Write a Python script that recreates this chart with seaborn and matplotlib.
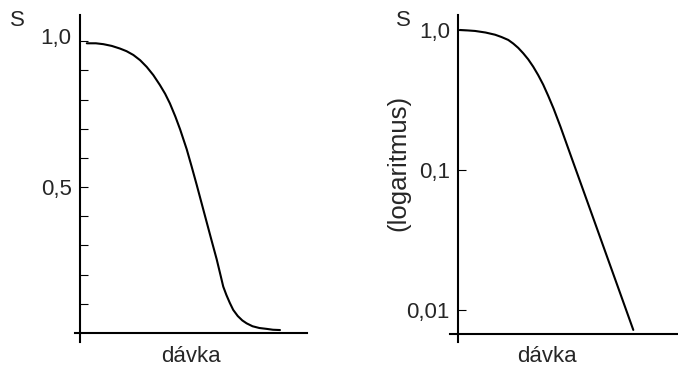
"""
Survival curves: linear vs logarithmic S axis against dose (dávka).
"""

import numpy as np
import pandas as pd
import matplotlib
matplotlib.use("Agg")
import matplotlib.pyplot as plt
import matplotlib.transforms as mtransforms
import seaborn as sns

sns.set_style("white")
plt.rcParams["font.family"] = ["Liberation Sans", "DejaVu Sans"]
plt.rcParams["ytick.direction"] = "in"
plt.rcParams["ytick.left"] = True

# dose (arbitrary units) and survival fraction S
dose_lin = [0.30, 0.70, 1.03, 1.40, 1.76, 2.05, 2.35, 2.65, 2.94, 3.23,
            3.52, 3.75, 3.96, 4.20, 4.41, 4.70, 4.92, 5.14, 5.36, 5.58,
            5.80, 6.02, 6.20, 6.31, 6.45, 6.60, 6.75, 6.95, 7.15, 7.34,
            7.60, 7.90, 8.22, 8.50, 8.81]
surv_lin = [0.993, 0.993, 0.990, 0.984, 0.975, 0.966, 0.953, 0.935, 0.912, 0.884,
            0.850, 0.820, 0.787, 0.742, 0.698, 0.630, 0.570, 0.508, 0.444, 0.380,
            0.316, 0.253, 0.195, 0.159, 0.130, 0.103, 0.079, 0.058, 0.043, 0.033,
            0.023, 0.017, 0.014, 0.011, 0.010]

dose_log = [0.07, 0.40, 0.74, 1.20, 1.62, 1.90, 2.20, 2.42, 2.64, 2.86,
            3.08, 3.30, 3.52, 3.74, 3.96, 4.20, 4.50, 5.00, 5.50, 6.00,
            6.50, 7.00, 7.71]
surv_log = [1.0, 0.993, 0.984, 0.959, 0.925, 0.891, 0.849, 0.800, 0.745, 0.682,
            0.617, 0.547, 0.476, 0.407, 0.339, 0.274, 0.204, 0.121, 0.072, 0.0428,
            0.0254, 0.0151, 0.0072]

lin_ticks = [0.1, 0.2, 0.3, 0.4, 0.5, 0.6, 0.7, 0.8, 0.9, 1.0]
lin_labels = ["", "", "", "", "0,5", "", "", "", "", "1,0"]
log_ticks = [0.01, 0.1, 1.0]
log_labels = ["0,01", "0,1", "1,0"]

W, H = 678, 372
FS = 16
LW = 1.5

df_lin = pd.DataFrame({"dose": dose_lin, "S": surv_lin})
df_log = pd.DataFrame({"dose": dose_log, "S": surv_log})

fig = plt.figure(figsize=(W / 100, H / 100), dpi=100)
ax1 = fig.add_axes([75 / W, 30 / H, 232 / W, 327 / H])
ax2 = fig.add_axes([450 / W, 30 / H, 228 / W, 327 / H])

sns.lineplot(data=df_lin, x="dose", y="S", ax=ax1, color="black", lw=LW)
sns.lineplot(data=df_log, x="dose", y="S", ax=ax2, color="black", lw=LW)

# left panel: linear axis
ax1.set_xlim(-0.22, 10.0)
ax1.set_ylim(-0.031, 1.09)
ax1.set_yticks(lin_ticks)
ax1.set_yticklabels(lin_labels)

# right panel: log axis
ax2.set_yscale("log")
ax2.set_xlim(-0.366, 9.68)
ax2.set_ylim(10 ** -2.229, 10 ** 0.107)
ax2.set_yticks(log_ticks)
ax2.set_yticklabels(log_labels)
ax2.minorticks_off()

for ax, y0 in [(ax1, 0.0), (ax2, 10 ** -2.174)]:
    ax.set_xticks([])
    ax.set_xlabel("")
    ax.set_ylabel("")
    ax.spines["top"].set_visible(False)
    ax.spines["right"].set_visible(False)
    ax.spines["left"].set_position(("data", 0))
    ax.spines["bottom"].set_position(("data", y0))
    for s in ("left", "bottom"):
        ax.spines[s].set_linewidth(LW)
        ax.spines[s].set_color("black")
    ax.tick_params(axis="y", which="major", left=True, direction="in",
                   length=5.5, width=0.8, color="black", labelsize=FS, pad=6)
    ax.patch.set_alpha(0)

# the "1,0" label on the linear panel sits a little above its tick
lbl = ax1.get_yticklabels()[-1]
lbl.set_transform(lbl.get_transform()
                  + mtransforms.ScaledTranslation(0, 5 / 100, fig.dpi_scale_trans))

def px_text(x, y, s, **kw):
    fig.text(x / W, 1 - y / H, s, ha="center", va="center", **kw)

px_text(17, 20, "S", fontsize=FS)
px_text(403, 20, "S", fontsize=FS)
px_text(191, 357, "dávka", fontsize=FS)
px_text(547, 357, "dávka", fontsize=FS)
px_text(398, 163, "(logaritmus)", fontsize=18.5, rotation=90)

fig.savefig("out.png", dpi=100)
plt.close(fig)
